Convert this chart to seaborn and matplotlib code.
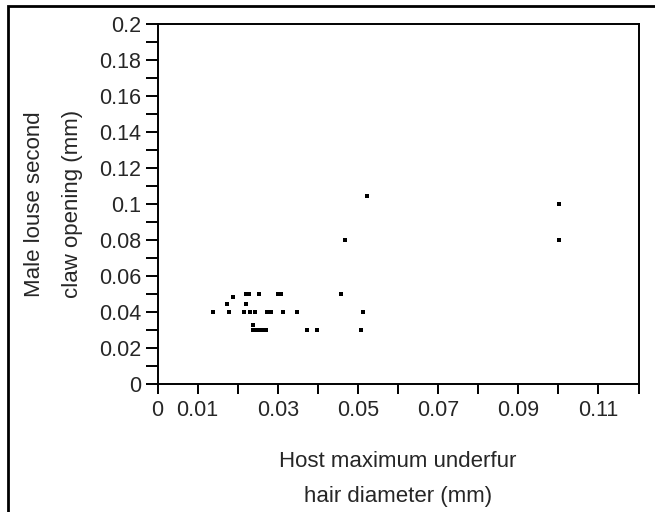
import matplotlib
matplotlib.use("Agg")
import matplotlib.pyplot as plt
import matplotlib.patches as mpatches
from matplotlib.ticker import FixedLocator, FixedFormatter
import seaborn as sns
import pandas as pd

# Data
hair_diameter = [0.0221, 0.0228, 0.0252, 0.0301, 0.0307, 0.0457,
                 0.0188,
                 0.0173, 0.0222,
                 0.0138, 0.0178, 0.0217, 0.0232, 0.0243, 0.0272, 0.0283, 0.0313, 0.0347, 0.0512,
                 0.0238,
                 0.0238, 0.0245, 0.0253, 0.0261, 0.0270, 0.0372, 0.0397, 0.0507,
                 0.0522, 0.0468, 0.1001, 0.1001]
claw_opening = [0.05, 0.05, 0.05, 0.05, 0.05, 0.05,
                0.048,
                0.0444, 0.0444,
                0.04, 0.04, 0.04, 0.04, 0.04, 0.04, 0.04, 0.04, 0.04, 0.04,
                0.0324,
                0.03, 0.03, 0.03, 0.03, 0.03, 0.03, 0.03, 0.03,
                0.1045, 0.08, 0.10, 0.08]

x_major = [0, 0.01, 0.03, 0.05, 0.07, 0.09, 0.11]
x_major_labels = ["0", "0.01", "0.03", "0.05", "0.07", "0.09", "0.11"]
x_minor = [0.02, 0.04, 0.06, 0.08, 0.10, 0.12]
y_major = [0, 0.02, 0.04, 0.06, 0.08, 0.1, 0.12, 0.14, 0.16, 0.18, 0.2]
y_major_labels = ["0", "0.02", "0.04", "0.06", "0.08", "0.1", "0.12", "0.14", "0.16", "0.18", "0.2"]
y_minor = [0.01, 0.03, 0.05, 0.07, 0.09, 0.11, 0.13, 0.15, 0.17, 0.19]

xlabel = "Host maximum underfur\nhair diameter (mm)"
ylabel = "Male louse second\nclaw opening (mm)"

df = pd.DataFrame({"x": hair_diameter, "y": claw_opening})

sns.set_style("white")
plt.rcParams["font.family"] = ["Liberation Sans", "DejaVu Sans"]

fig = plt.figure(figsize=(6.55, 5.12), dpi=100)
ax = fig.add_axes([157.5 / 655, 1 - 383.5 / 512, 481 / 655, 359.5 / 512])

sns.scatterplot(data=df, x="x", y="y", marker="s", s=12, color="black",
                linewidth=0, ax=ax, legend=False)

ax.set_xlim(0, 0.12)
ax.set_ylim(0, 0.2)

ax.xaxis.set_major_locator(FixedLocator(x_major))
ax.xaxis.set_major_formatter(FixedFormatter(x_major_labels))
ax.xaxis.set_minor_locator(FixedLocator(x_minor))
ax.yaxis.set_major_locator(FixedLocator(y_major))
ax.yaxis.set_major_formatter(FixedFormatter(y_major_labels))
ax.yaxis.set_minor_locator(FixedLocator(y_minor))

ax.tick_params(axis="x", which="both", direction="out", length=7.2, width=1.4,
               color="black", labelsize=15.5, pad=5, bottom=True)
ax.tick_params(axis="y", which="both", direction="out", length=8.6, width=1.4,
               color="black", labelsize=15.5, pad=3, left=True)

for sp in ax.spines.values():
    sp.set_visible(True)
    sp.set_color("black")
    sp.set_linewidth(1.4)

ax.set_xlabel(xlabel, fontsize=16, linespacing=1.86, va="center")
ax.xaxis.set_label_coords(0.5, (383.5 - 479) / 359.5)
ax.set_ylabel(ylabel, fontsize=16, linespacing=2.02, va="center")
ax.yaxis.set_label_coords((53.5 - 157.5) / 481, 0.5)

# outer frame around the figure
fig.patches.append(mpatches.Rectangle((8 / 655, -0.05), 1.2, 1.05 - 5.5 / 512,
                                      transform=fig.transFigure, fill=False,
                                      edgecolor="black", linewidth=2.0))

fig.savefig("out.png", dpi=100)
